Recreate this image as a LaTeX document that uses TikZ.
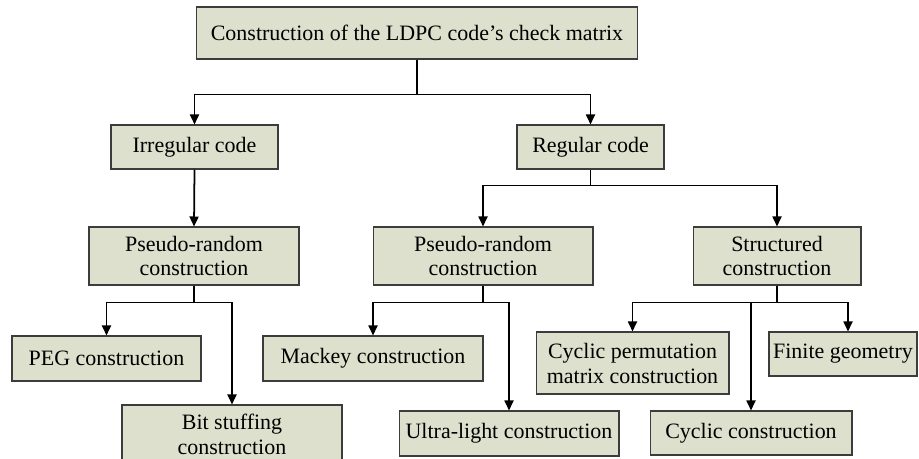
\documentclass[tikz,border=0pt]{standalone}
\usepackage{fontspec}
\setmainfont{Liberation Serif}
\usetikzlibrary{arrows.meta}
\definecolor{boxfill}{RGB}{221,224,204}
\definecolor{boxline}{RGB}{60,60,60}
\begin{document}
\begin{tikzpicture}[
 x=.02cm,y=-.02cm,
 box/.style={draw=boxline,fill=boxfill,line width=.6pt,align=center,inner sep=0pt,
  font=\fontsize{12.5}{14.2}\selectfont},
 arr/.style={line width=1pt,-{Triangle[length=2mm,width=1.8mm]}}]
 \useasboundingbox (0,0) rectangle (919,458);
 % Root and the two code classes.
 \node[box,minimum width=8.84cm,minimum height=1.04cm] (root) at (417,33)
  {Construction of the LDPC code’s check matrix};
 \node[box,minimum width=3.34cm,minimum height=.88cm] (irr) at (194.5,147) {Irregular code};
 \node[box,minimum width=2.94cm,minimum height=.88cm] (reg) at (590.5,147) {Regular code};
 % Second level.
 \node[box,minimum width=4.2cm,minimum height=1.16cm] (prl) at (194,256) {Pseudo-random\\construction};
 \node[box,minimum width=4.4cm,minimum height=1.16cm] (prm) at (483,256) {Pseudo-random\\construction};
 \node[box,minimum width=3.36cm,minimum height=1.16cm] (str) at (777,256) {Structured\\construction};
 % Leaves.
 \node[box,minimum width=3.78cm,minimum height=.9cm] (peg) at (106.5,358.5) {PEG construction};
 \node[box,minimum width=4.4cm,minimum height=1.16cm] (bit) at (232,434) {Bit stuffing\\construction};
 \node[box,minimum width=4.4cm,minimum height=.9cm] (mac) at (373,358.5) {Mackey construction};
 \node[box,minimum width=4.4cm,minimum height=.9cm] (ult) at (509,433.5) {Ultra-light construction};
 \node[box,minimum width=3.86cm,minimum height=1.24cm] (cpm) at (632.5,363) {Cyclic permutation\\matrix construction};
 \node[box,minimum width=4.04cm,minimum height=.88cm] (cyc) at (751,433) {Cyclic construction};
 \node[box,minimum width=2.96cm,minimum height=.88cm] (fin) at (843,354) {Finite geometry};
 % Connectors.
 \draw[arr] (root.south) -- ++(0,35) -| (irr.north);
 \draw[arr] (root.south) -- ++(0,35) -| (reg.north);
 \draw[arr] (irr.south) -- (prl.north);
 \draw[arr] (reg.south) -- ++(0,16) -| (prm.north);
 \draw[arr] (reg.south) -- ++(0,16) -| (str.north);
 \draw[arr] (prl.south) -- ++(0,17) -| (peg.north);
 \draw[arr] (prl.south) -- ++(0,17) -| (bit.north);
 \draw[arr] (prm.south) -- ++(0,17) -| (mac.north);
 \draw[arr] (prm.south) -- ++(0,17) -| (ult.north);
 \draw[arr] (str.south) -- ++(0,17) -| (cpm.north);
 \draw[arr] (str.south) -- ++(0,17) -| (cyc.north);
 \draw[arr] (str.south) -- ++(0,17) -| ([xshift=.1cm]fin.north);
\end{tikzpicture}
\end{document}
